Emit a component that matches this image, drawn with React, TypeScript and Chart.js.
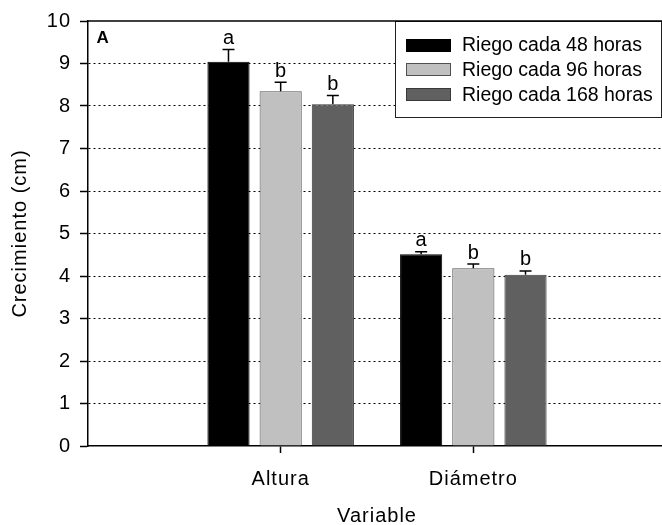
import React, { useEffect, useRef } from 'react';
import { Chart, registerables } from 'chart.js';

Chart.register(...registerables);

// Categories and series
const categories = ['Altura', 'Diámetro'];
const seriesNames = ['Riego cada 48 horas', 'Riego cada 96 horas', 'Riego cada 168 horas'];

// Mean growth (cm) per irrigation interval
const riego48 = [9.04, 4.51];
const riego96 = [8.35, 4.18];
const riego168 = [8.04, 4.03];

// Standard errors (upper whisker only)
const err48 = [0.29, 0.06];
const err96 = [0.21, 0.10];
const err168 = [0.21, 0.09];

// Significance letters above each bar
const letters48 = ['a', 'a'];
const letters96 = ['b', 'b'];
const letters168 = ['b', 'b'];

const yMin = 0;
const yMax = 10;
const yStep = 1;

const panelLabel = 'A';
const xTitle = 'Variable';
const yTitle = 'Crecimiento (cm)';

const fills = ['#000000', '#c0c0c0', '#606060'];
const strokes = ['#000000', '#505050', '#383838'];

const FONT = "'Liberation Sans', Arial, Helvetica, sans-serif";

// Blank slots at both ends place the two groups at 1/3 and 2/3 of the axis
const pad = <T,>(arr: T[]): (T | null)[] => [null, ...arr, null];
const axisLabels = ['', ...categories, ''];

const seriesValues = [riego48, riego96, riego168];
const seriesErrors = [err48, err96, err168];
const seriesLetters = [letters48, letters96, letters168];

const textSpacing = {
  id: 'textSpacing',
  beforeDraw(chart: any) {
    (chart.ctx as any).letterSpacing = '1px';
  },
};

const errorBars = {
  id: 'errorBars',
  afterDatasetsDraw(chart: any) {
    const { ctx } = chart;
    const yScale = chart.scales.y;
    chart.data.datasets.forEach((ds: any, di: number) => {
      const meta = chart.getDatasetMeta(di);
      meta.data.forEach((bar: any, i: number) => {
        const v = ds.data[i];
        if (v == null) return;
        const e = ds.errors[i];
        const yTop = yScale.getPixelForValue(v + e);
        const x = bar.x;
        ctx.save();
        (ctx as any).letterSpacing = '0px';
        ctx.strokeStyle = '#000';
        ctx.lineWidth = 1.5;
        ctx.beginPath();
        ctx.moveTo(x, bar.y);
        ctx.lineTo(x, yTop);
        ctx.moveTo(x - 6, yTop);
        ctx.lineTo(x + 6, yTop);
        ctx.stroke();
        ctx.fillStyle = '#000';
        ctx.font = `20px ${FONT}`;
        ctx.textAlign = 'center';
        ctx.textBaseline = 'alphabetic';
        ctx.fillText(ds.letters[i], x, yTop - 5.5);
        ctx.restore();
      });
    });
  },
};

const boxLegend = {
  id: 'boxLegend',
  afterDraw(chart: any) {
    const { ctx, chartArea } = chart;
    ctx.save();
    (ctx as any).letterSpacing = '0px';

    // panel letter
    ctx.fillStyle = '#000';
    ctx.font = `bold 17px ${FONT}`;
    ctx.textAlign = 'left';
    ctx.textBaseline = 'alphabetic';
    ctx.fillText(panelLabel, chartArea.left + 8.5, chartArea.top + 21.5);

    // legend box
    const left = chartArea.left + 307;
    const top = chartArea.top;
    const right = chartArea.right - 5;
    const bottom = chartArea.top + 96;
    ctx.fillStyle = '#ffffff';
    ctx.fillRect(left, top, right - left, bottom - top);
    ctx.strokeStyle = '#222';
    ctx.lineWidth = 1;
    ctx.strokeRect(Math.round(left) + 0.5, Math.round(top) + 0.5, Math.round(right - left), Math.round(bottom - top));

    ctx.font = `19.5px ${FONT}`;
    ctx.textBaseline = 'middle';
    chart.data.datasets.forEach((ds: any, i: number) => {
      const cy = top + 24 + i * 24.7;
      const sx = left + 11;
      ctx.fillStyle = ds.backgroundColor;
      ctx.fillRect(sx, Math.round(cy - 6.5), 45, 13);
      ctx.strokeStyle = ds.borderColor;
      ctx.lineWidth = 1;
      ctx.strokeRect(sx + 0.5, Math.round(cy - 6.5) + 0.5, 44, 12);
      ctx.fillStyle = '#000';
      ctx.fillText(ds.label, left + 67, cy + 1);
    });

    // top frame line
    ctx.strokeStyle = '#000';
    ctx.lineWidth = 1.5;
    ctx.beginPath();
    ctx.moveTo(chartArea.left, chartArea.top);
    ctx.lineTo(chartArea.right, chartArea.top);
    ctx.stroke();
    ctx.restore();
  },
};

const W = 682;
const H = 528;

export default function App() {
  const canvasRef = useRef<HTMLCanvasElement | null>(null);

  useEffect(() => {
    const canvas = canvasRef.current;
    if (!canvas) return;
    const lastIndex = axisLabels.length - 1;

    const chart = new Chart(canvas, {
      type: 'bar',
      data: {
        labels: axisLabels,
        datasets: seriesNames.map((name, i) => ({
          label: name,
          data: pad(seriesValues[i]),
          errors: pad(seriesErrors[i]),
          letters: pad(seriesLetters[i]),
          backgroundColor: fills[i],
          borderColor: strokes[i],
          borderWidth: 1,
          categoryPercentage: 0.8125,
          barPercentage: 0.808,
        })) as any,
      },
      options: {
        responsive: false,
        animation: false,
        events: [],
        layout: { padding: { top: 21, right: W - 666, left: 0, bottom: 0 } },
        plugins: {
          legend: { display: false },
          tooltip: { enabled: false },
        },
        scales: {
          x: {
            type: 'category',
            offset: false,
            grid: {
              offset: false,
              drawOnChartArea: false,
              drawTicks: true,
              tickLength: 7,
              tickWidth: 1.5,
              tickColor: (c: any) => (c.index === 0 || c.index === lastIndex ? 'rgba(0,0,0,0)' : '#000'),
            },
            border: { display: true, color: '#000', width: 1.5 },
            ticks: {
              color: '#000',
              font: { family: FONT, size: 20 },
              padding: 14,
              maxRotation: 0,
              autoSkip: false,
            },
            title: {
              display: true,
              text: xTitle,
              color: '#000',
              font: { family: FONT, size: 20 },
              padding: { top: 0, bottom: 0 },
            },
            afterFit: (scale: any) => {
              scale.height = H - 446;
            },
          },
          y: {
            min: yMin,
            max: yMax,
            grid: {
              color: (c: any) => (c.tick && (c.tick.value === yMin || c.tick.value === yMax) ? 'rgba(0,0,0,0)' : '#000'),
              lineWidth: 1,
              tickColor: '#000',
              tickLength: 8,
              tickWidth: 1.5,
            },
            border: { display: true, color: '#000', width: 1.5, dash: [2, 3] },
            ticks: {
              stepSize: yStep,
              color: '#000',
              font: { family: FONT, size: 20 },
              padding: 9,
            },
            title: {
              display: true,
              text: yTitle,
              color: '#000',
              font: { family: FONT, size: 20 },
              padding: { top: 8, bottom: 0 },
            },
            afterFit: (scale: any) => {
              scale.width = 88;
            },
          },
        },
      } as any,
      plugins: [textSpacing, errorBars, boxLegend],
    });

    return () => chart.destroy();
  }, []);

  return (
    <div style={{ position: 'fixed', left: 0, top: 0, width: W, height: H, background: '#fff' }}>
      <canvas ref={canvasRef} width={W} height={H} style={{ display: 'block' }} />
    </div>
  );
}
